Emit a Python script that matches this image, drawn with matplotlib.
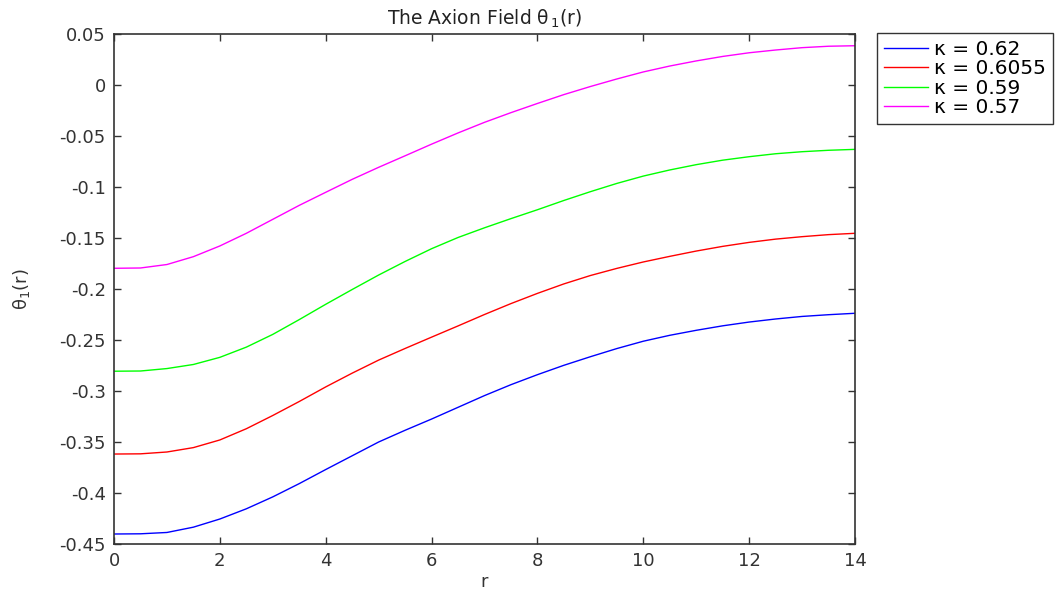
import matplotlib
matplotlib.use("Agg")
import matplotlib.pyplot as plt

r = [0, 0.5, 1, 1.5, 2, 2.5, 3, 3.5, 4, 4.5, 5, 5.5, 6, 6.5, 7, 7.5,
     8, 8.5, 9, 9.5, 10, 10.5, 11, 11.5, 12, 12.5, 13, 13.5, 14]
theta_062 = [-0.4402, -0.4400, -0.4387, -0.4335, -0.4255, -0.4155, -0.4038, -0.3908,
             -0.3770, -0.3635, -0.3500, -0.3385, -0.3275, -0.3160, -0.3045, -0.2938,
             -0.2840, -0.2748, -0.2664, -0.2584, -0.2512, -0.2454, -0.2405, -0.2361,
             -0.2324, -0.2294, -0.2269, -0.2252, -0.2238]
theta_06055 = [-0.3618, -0.3616, -0.3598, -0.3555, -0.3480, -0.3370, -0.3240, -0.3103,
               -0.2960, -0.2825, -0.2697, -0.2583, -0.2472, -0.2362, -0.2250, -0.2143,
               -0.2043, -0.1950, -0.1868, -0.1798, -0.1735, -0.1680, -0.1628, -0.1582,
               -0.1543, -0.1511, -0.1487, -0.1467, -0.1454]
theta_059 = [-0.2806, -0.2804, -0.2780, -0.2740, -0.2670, -0.2570, -0.2445, -0.2300,
             -0.2150, -0.2005, -0.1863, -0.1730, -0.1605, -0.1495, -0.1400, -0.1310,
             -0.1223, -0.1132, -0.1046, -0.0965, -0.0893, -0.0833, -0.0781, -0.0737,
             -0.0703, -0.0674, -0.0654, -0.0640, -0.0631]
theta_057 = [-0.1797, -0.1794, -0.1760, -0.1683, -0.1578, -0.1454, -0.1317, -0.1180,
             -0.1052, -0.0925, -0.0807, -0.0694, -0.0580, -0.0470, -0.0366, -0.0271,
             -0.0181, -0.0094, -0.0015, 0.0059, 0.0128, 0.0186, 0.0236, 0.0280,
             0.0316, 0.0343, 0.0366, 0.0380, 0.0385]
labels = ["κ = 0.62", "κ = 0.6055", "κ = 0.59", "κ = 0.57"]
colors = ["#0000ff", "#ff0000", "#00ff00", "#ff00ff"]
xticks = [0, 2, 4, 6, 8, 10, 12, 14]
yticks = [0.05, 0, -0.05, -0.1, -0.15, -0.2, -0.25, -0.3, -0.35, -0.4, -0.45]
yticklabels = ["0.05", "0", "-0.05", "-0.1", "-0.15", "-0.2", "-0.25", "-0.3", "-0.35", "-0.4", "-0.45"]

plt.rcParams['axes.unicode_minus'] = False
plt.rcParams['font.family'] = ['DejaVu Sans']

fig = plt.figure(figsize=(10.61, 5.95), dpi=100)
ax = fig.add_axes([114/1061, 1-544/595, (855-114)/1061, (544-34)/595])

for ys, lab, c in zip([theta_062, theta_06055, theta_059, theta_057], labels, colors):
    ax.plot(r, ys, color=c, lw=1.0, label=lab)

ax.set_xlim(0, 14)
ax.set_ylim(-0.45, 0.05)
ax.set_xticks(xticks)
ax.set_xticklabels([str(t) for t in xticks])
ax.set_yticks(yticks)
ax.set_yticklabels(yticklabels)
ax.tick_params(direction='in', length=5, width=1, top=True, right=True,
               labelsize=13, labelcolor='#333333', color='#333333', pad=6)
for s in ax.spines.values():
    s.set_color('#333333')
    s.set_linewidth(1.2)

ax.set_title("The Axion Field θ$_{\\,1}$(r)", fontsize=13.5, color='#222222', pad=7)
ax.set_xlabel("r", fontsize=13, color='#333333', labelpad=2)
ax.set_ylabel("θ$_1$(r)", fontsize=13, color='#333333')
ax.yaxis.set_label_coords(-0.11, 0.5)

leg = ax.legend(loc='upper left', bbox_to_anchor=(877/1061, 1-33/595),
                bbox_transform=fig.transFigure, frameon=True, fancybox=False,
                edgecolor='black', fontsize=14.5, handlelength=2.2, handletextpad=0.3,
                borderaxespad=0, borderpad=0.35, labelspacing=0.02)
leg.get_frame().set_linewidth(1.0)

fig.savefig("out.png", dpi=100)
